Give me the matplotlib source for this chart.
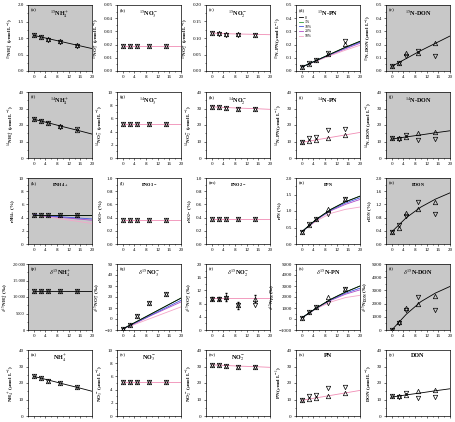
import numpy as np
import matplotlib.pyplot as plt
from matplotlib.ticker import AutoMinorLocator

plt.rcParams['font.family'] = ['Liberation Serif', 'DejaVu Serif']
plt.rcParams['mathtext.fontset'] = 'stix'
plt.rcParams['font.size'] = 4

# sampling days of the observations
t_obs = [0, 2.5, 5, 9, 15]
t_mod = [0, 5, 10, 15, 20]

# model scenario legend (panel d)
scen = ["0", "1%", "10%", "20%", "50%"]
scen_col = ['k', '#2e9a3a', '#4455dd', '#b04cc8', '#f4a6c8']

# panel letters, titles, y labels, y limits, y ticks
letters = list("abcdefghijklmnopqrstuvwxy")
titles = [r"$^{15}$NH$_4^+$", r"$^{15}$NO$_3^-$", r"$^{15}$NO$_2^-$", r"$^{15}$N-PN", r"$^{15}$N-DON",
          r"$^{14}$NH$_4^+$", r"$^{14}$NO$_3^-$", r"$^{14}$NO$_2^-$", r"$^{14}$N-PN", r"$^{14}$N-DON",
          r"r$_{\mathregular{NH4+}}$", r"r$_{\mathregular{NO3-}}$", r"r$_{\mathregular{NO2-}}$",
          r"r$_{\mathregular{PN}}$", r"r$_{\mathregular{DON}}$",
          r"$\delta^{15}$NH$_4^+$", r"$\delta^{15}$NO$_3^-$", r"$\delta^{15}$NO$_2^-$", r"$\delta^{15}$N-PN", r"$\delta^{15}$N-DON",
          r"NH$_4^+$", r"NO$_3^-$", r"NO$_2^-$", "PN", "DON"]
ylabels = [r"$^{15}$NH$_4^+$ ($\mu$mol L$^{-1}$)", r"$^{15}$NO$_3^-$ ($\mu$mol L$^{-1}$)", r"$^{15}$NO$_2^-$ ($\mu$mol L$^{-1}$)",
           r"$^{15}$N-PN ($\mu$mol L$^{-1}$)", r"$^{15}$N-DON ($\mu$mol L$^{-1}$)",
           r"$^{14}$NH$_4^+$ ($\mu$mol L$^{-1}$)", r"$^{14}$NO$_3^-$ ($\mu$mol L$^{-1}$)", r"$^{14}$NO$_2^-$ ($\mu$mol L$^{-1}$)",
           r"$^{14}$N-PN ($\mu$mol L$^{-1}$)", r"$^{14}$N-DON ($\mu$mol L$^{-1}$)",
           r"r$_{\mathregular{NH4+}}$ (%)", r"r$_{\mathregular{NO3-}}$ (%)", r"r$_{\mathregular{NO2-}}$ (%)",
           r"r$_{\mathregular{PN}}$ (%)", r"r$_{\mathregular{DON}}$ (%)",
           r"$\delta^{15}$NH$_4^+$ (‰)", r"$\delta^{15}$NO$_3^-$ (‰)", r"$\delta^{15}$NO$_2^-$ (‰)",
           r"$\delta^{15}$N$_{\mathregular{PN}}$ (‰)", r"$\delta^{15}$N$_{\mathregular{DON}}$ (‰)",
           r"NH$_4^+$ ($\mu$mol L$^{-1}$)", r"NO$_3^-$ ($\mu$mol L$^{-1}$)", r"NO$_2^-$ ($\mu$mol L$^{-1}$)",
           r"PN ($\mu$mol L$^{-1}$)", r"DON ($\mu$mol L$^{-1}$)"]
ylims = [(0, 2), (0, 0.05), (0, 0.2), (0, 0.5), (0, 0.5),
         (0, 40), (0, 10), (0, 40), (0, 40), (0, 40),
         (0, 10), (0, 1), (0, 1), (0, 2), (0, 2),
         (0, 20000), (-10, 50), (0, 20), (-1000, 5000), (0, 5000),
         (0, 40), (0, 10), (0, 40), (0, 40), (0, 40)]
ysteps = [0.5, 0.01, 0.05, 0.1, 0.1,
          10, 2, 10, 10, 10,
          2, 0.2, 0.2, 0.5, 0.4,
          5000, 10, 4, 1000, 1000,
          10, 2, 10, 10, 10]
shaded = [0, 4, 5, 9, 10, 14, 15, 19]

# observations: up triangles and down triangles
obs_up = [[1.08, 1.02, 0.96, 0.90, 0.80], [0.019, 0.019, 0.019, 0.019, 0.019], [0.115, 0.114, 0.111, 0.111, 0.110],
          [0.030, 0.055, 0.080, 0.130, 0.205], [0.040, 0.060, 0.140, 0.140, 0.210],
          [23.5, 22.5, 21.0, 19.5, 17.0], [5.2, 5.2, 5.2, 5.2, 5.2], [31.0, 31.0, 30.5, 30.0, 29.5],
          [10.0, 10.5, 11.0, 12.0, 14.0], [12.0, 12.0, 13.0, 15.0, 15.5],
          [4.4, 4.4, 4.4, 4.4, 4.4], [0.37, 0.37, 0.37, 0.37, 0.37], [0.38, 0.38, 0.38, 0.38, 0.38],
          [0.37, 0.58, 0.75, 1.07, 1.35], [0.37, 0.50, 0.95, 1.05, 1.28],
          [11700, 11700, 11700, 11700, 11700], [-9, -5, 3, 15, 23], [9.5, 9.5, 10.0, 7.5, 9.5],
          [100, 600, 1050, 2000, 2700], [0, 600, 1700, 1950, 2600],
          [24.0, 23.0, 21.5, 20.0, 17.5], [5.2, 5.2, 5.2, 5.2, 5.2], [31.0, 31.0, 30.5, 30.0, 29.5],
          [10.0, 10.5, 11.0, 12.0, 14.0], [12.0, 12.0, 13.0, 15.0, 15.5]]
obs_dn = [[1.08, 1.02, 0.95, 0.88, 0.76], [0.019, 0.019, 0.019, 0.019, 0.019], [0.115, 0.113, 0.110, 0.110, 0.109],
          [0.030, 0.060, 0.080, 0.140, 0.230], [0.040, 0.060, 0.110, 0.150, 0.110],
          [23.5, 22.5, 21.0, 19.0, 17.5], [5.2, 5.2, 5.2, 5.2, 5.2], [31.0, 31.0, 30.5, 30.0, 29.5],
          [10.0, 12.0, 12.5, 17.0, 17.5], [12.0, 11.5, 14.0, 11.0, 11.5],
          [4.4, 4.4, 4.4, 4.4, 4.4], [0.37, 0.37, 0.37, 0.37, 0.37], [0.38, 0.38, 0.38, 0.38, 0.38],
          [0.37, 0.60, 0.75, 0.92, 1.35], [0.37, 0.58, 0.85, 1.28, 0.90],
          [11700, 11700, 11700, 11700, 11700], [-9, -5, 3, 15, 23], [9.5, 9.5, 9.8, 7.5, 7.5],
          [100, 600, 1050, 1500, 2700], [0, 550, 1500, 2500, 1500],
          [24.0, 23.0, 21.5, 20.0, 17.5], [5.2, 5.2, 5.2, 5.2, 5.2], [31.0, 31.0, 30.5, 30.0, 29.5],
          [10.0, 12.0, 12.5, 17.0, 17.5], [12.0, 11.5, 14.0, 11.0, 11.5]]

# model curves; one list = single line, several lists = scenarios (colour order as scen_col)
mod_single = {0: [1.08, 0.98, 0.88, 0.78, 0.68], 1: [0.019, 0.019, 0.019, 0.019, 0.019],
              2: [0.115, 0.113, 0.112, 0.111, 0.110], 4: [0.035, 0.095, 0.155, 0.210, 0.265],
              5: [23.5, 21.3, 19.0, 16.8, 14.5], 6: [5.2, 5.2, 5.2, 5.2, 5.2],
              7: [31.0, 30.6, 30.2, 29.9, 29.5], 8: [9.5, 11.0, 12.5, 14.0, 15.5],
              9: [11.5, 12.8, 14.0, 15.3, 16.5], 11: [0.37, 0.37, 0.37, 0.37, 0.37],
              12: [0.38, 0.38, 0.38, 0.38, 0.38], 14: [0.37, 0.80, 1.12, 1.36, 1.55],
              15: [11700, 11700, 11700, 11700, 11700], 17: [9.7, 9.7, 9.7, 9.7, 9.7],
              19: [0, 1200, 2150, 2800, 3300],
              20: [24.0, 21.8, 19.5, 17.3, 15.0], 21: [5.2, 5.2, 5.2, 5.2, 5.2],
              22: [31.0, 30.6, 30.2, 29.9, 29.5], 23: [9.5, 11.0, 12.5, 14.0, 15.5],
              24: [11.5, 12.8, 14.0, 15.3, 16.5]}
single_col = {0: 'k', 4: 'k', 5: 'k', 9: 'k', 14: 'k', 15: 'k', 19: 'k', 20: 'k', 24: 'k'}
mod_multi = {3: [[0.03, 0.08, 0.13, 0.180, 0.225], [0.03, 0.08, 0.13, 0.180, 0.225],
                 [0.03, 0.08, 0.128, 0.175, 0.218], [0.03, 0.078, 0.125, 0.168, 0.210],
                 [0.03, 0.075, 0.118, 0.158, 0.195]],
             10: [[4.4, 4.4, 4.4, 4.4, 4.4], [4.4, 4.4, 4.4, 4.4, 4.4],
                  [4.4, 4.25, 4.1, 3.95, 3.8], [4.4, 4.2, 4.0, 3.8, 3.6],
                  [4.4, 4.1, 3.75, 3.45, 3.1]],
             13: [[0.37, 0.75, 1.05, 1.28, 1.45], [0.37, 0.75, 1.05, 1.28, 1.45],
                  [0.37, 0.74, 1.03, 1.24, 1.40], [0.37, 0.73, 1.01, 1.20, 1.35],
                  [0.37, 0.70, 0.93, 1.05, 1.12]],
             16: [[-9, -2, 5, 12, 19], [-9, -2, 5, 12, 19], [-9, -2.5, 4, 10.5, 17],
                  [-9, -3, 3.5, 9.5, 15.5], [-9, -4, 1, 6, 11]],
             18: [[100, 1000, 1800, 2450, 3000], [100, 1000, 1800, 2450, 3000],
                  [100, 990, 1750, 2350, 2800], [100, 980, 1700, 2250, 2650],
                  [100, 950, 1550, 1950, 2150]]}

fig = plt.figure(figsize=(4.55, 4.22), dpi=100)
W, H = 455.0, 422.0
lefts = [28, 117, 206, 296, 386]
tops = [5, 92, 178, 264, 350]
aw, ah = 64, 66

for i in range(25):
    r, c = divmod(i, 5)
    ax = fig.add_axes([lefts[c] / W, 1 - (tops[r] + ah) / H, aw / W, ah / H])
    if i in shaded:
        ax.set_facecolor('#c8c8c8')
    if i in mod_single:
        ax.plot(t_mod, mod_single[i], color=single_col.get(i, '#f08cb4'), lw=0.6, zorder=2)
    if i in mod_multi:
        for k, yy in enumerate(mod_multi[i]):
            ax.plot(t_mod, yy, color=scen_col[k], lw=0.6, zorder=2 + (5 - k) * 0.01, label=scen[k])
    if i == 17:
        ax.errorbar(t_obs, obs_up[i], yerr=[0.5, 0.5, 1.2, 1.0, 1.0], fmt='none', ecolor='k', elinewidth=0.4, capsize=1)
    ax.plot(t_obs, obs_up[i], ls='none', marker='^', ms=3.2, mfc='none', mec='k', mew=0.5, zorder=3)
    ax.plot(t_obs, obs_dn[i], ls='none', marker='v', ms=3.2, mfc='none', mec='k', mew=0.5, zorder=3)

    ax.set_xlim(-2, 20)
    ax.set_xticks([0, 4, 8, 12, 16, 20])
    lo, hi = ylims[i]
    ax.set_ylim(lo, hi)
    ax.set_yticks(np.arange(lo, hi + ysteps[i] / 2, ysteps[i]))
    if i == 15:
        ax.set_yticklabels(['0', '5000', '10 000', '15 000', '20 000'])
    ax.xaxis.set_minor_locator(AutoMinorLocator(2))
    ax.yaxis.set_minor_locator(AutoMinorLocator(2))
    ax.tick_params(which='both', direction='out', labelsize=3.6, pad=1.5, width=0.4)
    ax.tick_params(which='major', length=1.5)
    ax.tick_params(which='minor', length=0.8)
    if i == 15:
        ax.tick_params(axis='y', labelsize=3.2, pad=1)
    if r == 4:
        # the bottom row's tick labels fall outside the picture in the original
        ax.tick_params(axis='x', labelbottom=False)
    for s in ax.spines.values():
        s.set_linewidth(0.5)
    ax.set_ylabel(ylabels[i], fontsize=3.6, fontweight='bold', labelpad=0.8 if i == 15 else 1.2)
    ax.text(0.04, 0.95, "(" + letters[i] + ")", transform=ax.transAxes, fontsize=3.8, va='top', ha='left')
    ax.text(0.5, 0.95, titles[i], transform=ax.transAxes, fontsize=4.4, fontweight='bold', va='top', ha='center')
    if i == 3:
        ax.legend(loc='upper left', bbox_to_anchor=(0.0, 0.88), fontsize=2.8, frameon=False,
                  handlelength=1.2, labelspacing=0.15, borderpad=0.2, handletextpad=0.3)

fig.savefig('out.png', dpi=100)
